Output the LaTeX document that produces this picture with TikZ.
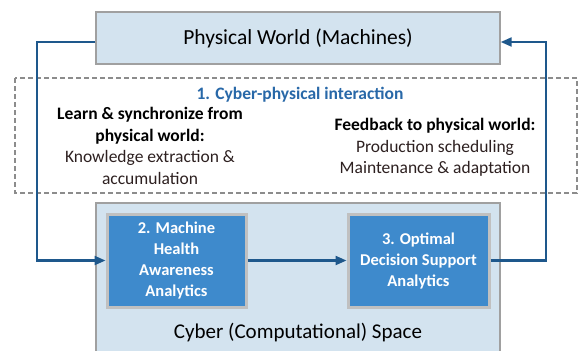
\documentclass[tikz,border=0pt]{standalone}
\usepackage{fontspec}
\setmainfont{Carlito}
\usetikzlibrary{arrows.meta}

\definecolor{paleblue}{RGB}{211,227,239}
\definecolor{framegray}{RGB}{160,160,160}
\definecolor{stepblue}{RGB}{62,138,204}
\definecolor{stepframe}{RGB}{192,192,192}
\definecolor{linkblue}{RGB}{30,88,140}
\definecolor{titleblue}{RGB}{40,104,168}
\definecolor{dashgray}{RGB}{140,140,140}
\definecolor{bodytext}{RGB}{45,32,32}

\tikzset{
  x=1bp, y=-1bp,
  bigbox/.style={draw=framegray, line width=1.4bp, fill=paleblue, inner sep=0pt},
  stepbox/.style={draw=stepframe, line width=3bp, fill=stepblue, text=white,
    inner sep=0pt, align=center, font=\fontsize{16.5bp}{21bp}\selectfont\bfseries},
  link/.style={draw=linkblue, line width=2.2bp, -{Triangle[length=11bp,width=9bp]}},
  zone/.style={draw=dashgray, line width=1.5bp, dash pattern=on 5bp off 3bp},
  plain/.style={align=center, inner sep=0pt, font=\fontsize{17.5bp}{21.7bp}\selectfont},
}

\begin{document}
\begin{tikzpicture}
\useasboundingbox (0,0) rectangle (579,350);
\begin{scope}
\clip (0,0) rectangle (579,350);

% cyber space panel (runs past the lower edge)
\draw[bigbox] (96,203) rectangle (500,362);
\node[font=\fontsize{21bp}{25bp}\selectfont] (cybertext) at (298,333) {Cyber (Computational) Space};

% physical world panel
\node[bigbox, minimum width=404bp, minimum height=52bp,
      font=\fontsize{21.5bp}{25bp}\selectfont] (phys) at (298,38) {Physical World (Machines)};

% interaction zone
\draw[zone] (15,78) rectangle (577,193);
\node[plain, text=titleblue, font=\fontsize{17.5bp}{21bp}\selectfont\bfseries] (inter) at (300,95) {1. Cyber-physical interaction};
\node[plain, anchor=north] (learn) at (150,107) {\textbf{Learn \& synchronize from}\\\textbf{physical world:}\\\textcolor{bodytext}{Knowledge extraction \&}\\\textcolor{bodytext}{accumulation}};
\node[plain, anchor=north] (feed) at (435,118) {\textbf{Feedback to physical world:}\\\textcolor{bodytext}{Production scheduling}\\\textcolor{bodytext}{Maintenance \& adaptation}};

% analytics steps
\node[stepbox, minimum width=139bp, minimum height=93bp] (health) at (176.5,260.5)
  {2. Machine\\Health\\Awareness\\Analytics};
\node[stepbox, minimum width=141bp, minimum height=93bp] (decide) at (418.5,260.5)
  {3. Optimal\\Decision Support\\Analytics};

% loop turning points
\coordinate (pl) at ([yshift=-4bp]phys.west);
\coordinate (pr) at ([yshift=-4bp]phys.east);
\coordinate (cl) at (37,0);
\coordinate (cr) at (546,0);

\draw[link] (pl) -| (cl |- health.west) -- (health.west);
\draw[link] (health.east) -- (decide.west);
\draw[link] (decide.east) -| (cr |- pr) -- (pr);
\end{scope}
\end{tikzpicture}
\end{document}
